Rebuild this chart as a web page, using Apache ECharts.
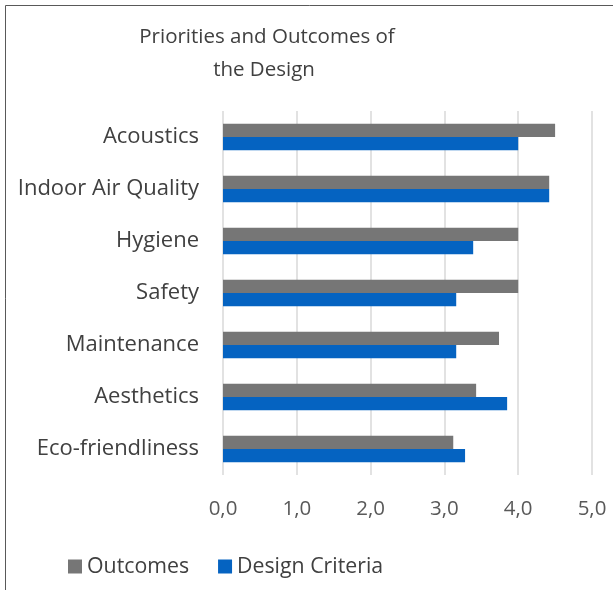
<!DOCTYPE html>
<html><head><meta charset="utf-8">
<script src="https://cdn.jsdelivr.net/npm/echarts@6/dist/echarts.min.js"></script>
<style>html,body{margin:0;padding:0;background:#fff}#c{width:613px;height:590px}</style>
</head><body><div id="c"></div>
<script>
const categories = ["Acoustics","Indoor Air Quality","Hygiene","Safety","Maintenance","Aesthetics","Eco-friendliness"];
const outcomes = [4.50,4.42,4.00,4.00,3.74,3.43,3.12];
const designCriteria = [4.00,4.42,3.39,3.16,3.16,3.85,3.28];
const seriesNames = ["Outcomes","Design Criteria"];
const titleLines = ["Priorities and Outcomes of","the Design"];
const FONT = "Open Sans";
const chart = echarts.init(document.getElementById('c'));
chart.setOption({
  animation:false,
  textStyle:{fontFamily:FONT},
  graphic:[
    {type:'rect',shape:{x:5.5,y:5.5,width:620,height:600},style:{fill:null,stroke:'#595959',lineWidth:1},silent:true},
    {type:'text',x:267,y:37,style:{text:titleLines[0],fontFamily:FONT,fontSize:20.5,fill:'#404040',align:'center',verticalAlign:'middle'}},
    {type:'text',x:264,y:70,style:{text:titleLines[1],fontFamily:FONT,fontSize:20.5,fill:'#404040',align:'center',verticalAlign:'middle'}}
  ],
  legend:{top:551,left:63,itemWidth:14,itemHeight:14,itemGap:29,icon:'rect',
    textStyle:{fontFamily:FONT,fontSize:21.3,color:'#404040'},data:seriesNames},
  grid:{left:223,right:21,top:111,bottom:115,containLabel:false},
  xAxis:{type:'value',min:0,max:5,interval:1,
    axisLabel:{formatter:v=>v.toFixed(1).replace('.',','),fontSize:20.5,color:'#595959',margin:24},
    splitLine:{lineStyle:{color:'#d9d9d9',width:1.5}},axisLine:{show:false},axisTick:{show:false}},
  yAxis:{type:'category',data:categories,inverse:true,
    axisLabel:{fontSize:22,color:'#404040',margin:24},
    axisLine:{show:false},axisTick:{show:false}},
  series:[
    {name:seriesNames[0],type:'bar',data:outcomes,barWidth:13.3,barGap:'0%',itemStyle:{color:'#767676'}},
    {name:seriesNames[1],type:'bar',data:designCriteria,barWidth:13.3,barGap:'0%',itemStyle:{color:'#0563C1'}}
  ]
});
</script></body></html>
